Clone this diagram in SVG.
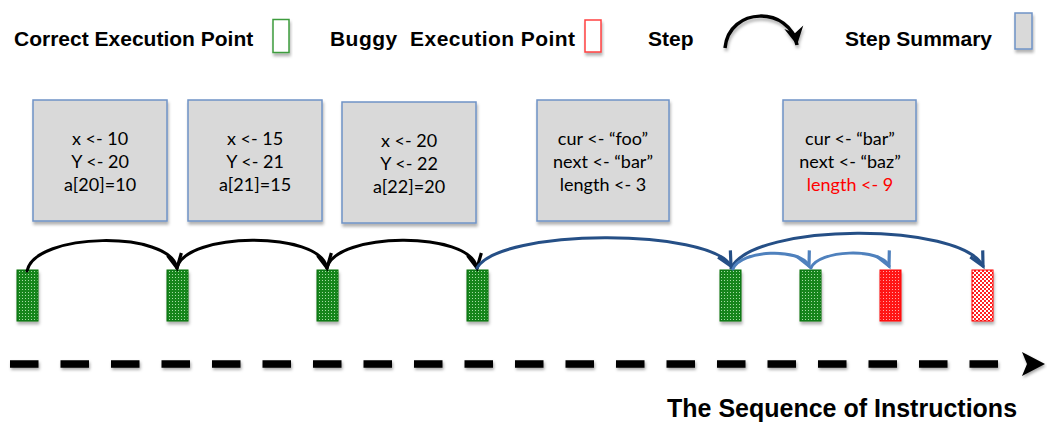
<svg xmlns="http://www.w3.org/2000/svg" width="1047" height="423" viewBox="0 0 1047 423">
  <style>
    .legend { font-family: "Liberation Sans", Arial, sans-serif; font-weight: bold; font-size: 21px; fill: #000; white-space: pre; }
    .title { font-family: "Liberation Sans", Arial, sans-serif; font-weight: bold; font-size: 25px; fill: #000; }
    .box { fill: #d9d9d9; stroke: #6f93c6; stroke-width: 1.5; }
    .code { font-family: Lato, "Open Sans", sans-serif; font-size: 18px; fill: #000; text-anchor: middle; }
    .bug { fill: #ff0000; }
    .ok { fill: url(#dotsGreen); stroke: #0d6e0d; stroke-width: 1; }
    .bad { fill: url(#dotsRed); stroke: #ff0000; stroke-width: 1; }
    .worse { fill: url(#dotsRedLight); stroke: #ff0000; stroke-width: 1; }
    .step { fill: none; stroke-width: 3; stroke-linecap: round; }
  </style>
  <defs>
    <filter id="shadow" x="-20%" y="-20%" width="140%" height="150%">
      <feDropShadow dx="1" dy="3" stdDeviation="1.5" flood-color="#000" flood-opacity="0.3"/>
    </filter>
    <filter id="axisShadow" filterUnits="userSpaceOnUse" x="0" y="340" width="1047" height="50">
      <feDropShadow dx="1" dy="2" stdDeviation="1.5" flood-color="#000" flood-opacity="0.35"/>
    </filter>
    <pattern id="dotsGreen" width="3" height="3" patternUnits="userSpaceOnUse">
      <rect width="3" height="3" fill="#16851a"/>
      <rect x="1" y="1" width="1" height="1" fill="#a6dca6"/>
    </pattern>
    <pattern id="dotsRed" width="3" height="3" patternUnits="userSpaceOnUse">
      <rect width="3" height="3" fill="#ff1414"/>
      <rect x="1" y="1" width="1" height="1" fill="#ffa8a8"/>
    </pattern>
    <pattern id="dotsRedLight" width="4" height="4" patternUnits="userSpaceOnUse">
      <rect width="4" height="4" fill="#ffffff"/>
      <rect x="0" y="0" width="2" height="2" fill="#ff2020"/>
      <rect x="2" y="2" width="2" height="2" fill="#ff2020"/>
    </pattern>
    <marker id="headBlack" markerUnits="userSpaceOnUse" markerWidth="22" markerHeight="22" refX="0" refY="0" viewBox="-16 -11 18 22" orient="auto">
      <path d="M-14,-7 L0,0 L-14,7" fill="none" stroke="#000" stroke-width="3.2" stroke-linejoin="miter"/>
    </marker>
    <marker id="headNavy" markerUnits="userSpaceOnUse" markerWidth="22" markerHeight="22" refX="0" refY="0" viewBox="-16 -11 18 22" orient="auto">
      <path d="M-14,-7 L0,0 L-14,7" fill="none" stroke="#254f86" stroke-width="3.2" stroke-linejoin="miter"/>
    </marker>
    <marker id="headSky" markerUnits="userSpaceOnUse" markerWidth="22" markerHeight="22" refX="0" refY="0" viewBox="-16 -11 18 22" orient="auto">
      <path d="M-14,-7 L0,0 L-14,7" fill="none" stroke="#4f81bd" stroke-width="3.2" stroke-linejoin="miter"/>
    </marker>
    <marker id="headLegend" markerUnits="userSpaceOnUse" markerWidth="24" markerHeight="24" refX="0" refY="0" viewBox="-16 -10 18 20" orient="auto">
      <path d="M-15,-8 L0,0 L-15,8 L-10,0 z" fill="#000"/>
    </marker>
  </defs>

  <!-- legend -->
  <g id="legend">
    <text class="legend" x="14" y="46">Correct Execution Point</text>
    <rect x="273" y="19.5" width="16" height="33" fill="#fff" stroke="#3c9c3c" stroke-width="1.5" filter="url(#shadow)"/>
    <text class="legend" x="330" y="46" xml:space="preserve" textLength="245" lengthAdjust="spacing">Buggy  Execution Point</text>
    <rect x="585" y="20" width="16" height="32" fill="#fff" stroke="#ff4040" stroke-width="1.5" filter="url(#shadow)"/>
    <text class="legend" x="648" y="46">Step</text>
    <path d="M725,48 C729,6 790,6 797,45" fill="none" stroke="#000" stroke-width="3.5" marker-end="url(#headLegend)" filter="url(#shadow)"/>
    <text class="legend" x="845" y="46">Step Summary</text>
    <rect x="1015" y="13" width="17" height="36" fill="#d9d9d9" stroke="#6f93c6" stroke-width="1.5" filter="url(#shadow)"/>
  </g>

  <!-- step summaries -->
  <g id="summary1">
    <rect class="box" x="33" y="100" width="134" height="121" filter="url(#shadow)"/>
    <text class="code" x="100" y="145">x &lt;- 10</text>
    <text class="code" x="100" y="168">Y &lt;- 20</text>
    <text class="code" x="100" y="191">a[20]=10</text>
  </g>
  <g id="summary2">
    <rect class="box" x="188" y="100" width="134" height="121" filter="url(#shadow)"/>
    <text class="code" x="255" y="145">x &lt;- 15</text>
    <text class="code" x="255" y="168">Y &lt;- 21</text>
    <text class="code" x="255" y="191">a[21]=15</text>
  </g>
  <g id="summary3">
    <rect class="box" x="342" y="102" width="134" height="121" filter="url(#shadow)"/>
    <text class="code" x="409" y="147">x &lt;- 20</text>
    <text class="code" x="409" y="170">Y &lt;- 22</text>
    <text class="code" x="409" y="193">a[22]=20</text>
  </g>
  <g id="summary4">
    <rect class="box" x="537" y="100" width="132" height="121" filter="url(#shadow)"/>
    <text class="code" x="603" y="145">cur &lt;- “foo”</text>
    <text class="code" x="603" y="168">next &lt;- “bar”</text>
    <text class="code" x="603" y="191">length &lt;- 3</text>
  </g>
  <g id="summary5">
    <rect class="box" x="783" y="100" width="133" height="121" filter="url(#shadow)"/>
    <text class="code" x="850" y="145">cur &lt;- “bar”</text>
    <text class="code" x="850" y="168">next &lt;- “baz”</text>
    <text class="code bug" x="850" y="191">length &lt;- 9</text>
  </g>

  <!-- execution points -->
  <g id="point1"><rect class="ok" x="17" y="270" width="21" height="51" filter="url(#shadow)"/></g>
  <g id="point2"><rect class="ok" x="167" y="270" width="21" height="51" filter="url(#shadow)"/></g>
  <g id="point3"><rect class="ok" x="317" y="270" width="21" height="51" filter="url(#shadow)"/></g>
  <g id="point4"><rect class="ok" x="467" y="270" width="21" height="51" filter="url(#shadow)"/></g>
  <g id="point5"><rect class="ok" x="720" y="270" width="21" height="51" filter="url(#shadow)"/></g>
  <g id="point6"><rect class="ok" x="800" y="270" width="21" height="51" filter="url(#shadow)"/></g>
  <g id="point7"><rect class="bad" x="880" y="270" width="21" height="51" filter="url(#shadow)"/></g>
  <g id="point8"><rect class="worse" x="972" y="270" width="21" height="51" filter="url(#shadow)"/></g>

  <!-- steps between execution points -->
  <g id="connectors">
    <path class="step" stroke="#000" d="M27,271 C35,232 170,230 177,268" marker-end="url(#headBlack)"/>
    <path class="step" stroke="#000" d="M177,268 C185,232 320,230 327,268" marker-end="url(#headBlack)"/>
    <path class="step" stroke="#000" d="M327,268 C335,232 470,230 477,268" marker-end="url(#headBlack)"/>
    <path class="step" stroke="#254f86" d="M477,268 C500,228 710,228 731,266" marker-end="url(#headNavy)"/>
    <path class="step" stroke="#254f86" d="M731,268 C755,222 960,222 983,266" marker-end="url(#headNavy)"/>
    <path class="step" stroke="#4f81bd" d="M733,269 C740,250 800,247 809,266" marker-end="url(#headSky)"/>
    <path class="step" stroke="#4f81bd" d="M811,268 C818,250 880,247 889,266" marker-end="url(#headSky)"/>
  </g>

  <!-- instruction axis -->
  <g id="axis">
    <g filter="url(#axisShadow)">
      <path d="M10,364 H999" fill="none" stroke="#000" stroke-width="7.5" stroke-dasharray="28.5 22"/>
      <path d="M1045,364 L1022,352 L1027,364 L1022,376 z" fill="#000"/>
    </g>
    <text class="title" x="667" y="417">The Sequence of Instructions</text>
  </g>
</svg>
